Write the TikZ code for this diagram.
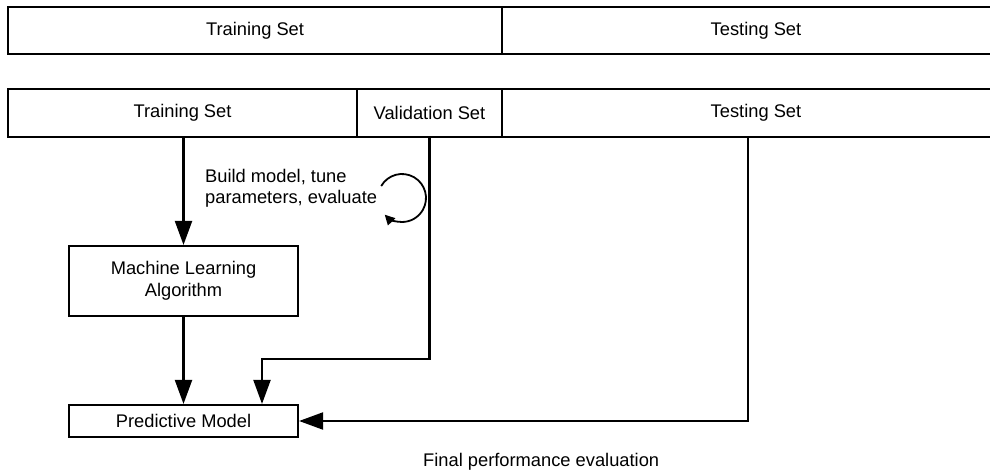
\documentclass[tikz,border=0pt]{standalone}
\usepackage{fontspec}
\setmainfont{Liberation Sans}
\usetikzlibrary{arrows.meta}

\tikzset{
  lbl/.style={font=\fontsize{18.3}{22}\selectfont, inner sep=0pt},
  setbox/.style={draw, line width=2.1pt, inner sep=0pt, lbl, align=center},
  arr/.style={line width=2.1pt, -{Triangle[length=24pt,width=17pt]}},
  looparr/.style={line width=1.8pt, -{Triangle[length=10pt,width=10pt]}},
}

\begin{document}
\begin{tikzpicture}[x=1pt, y=-1pt]
  \clip (0,0) rectangle (990,473);
  \fill[white] (0,0) rectangle (990,473);

  % first split: training / testing
  \node[setbox, minimum width=494pt, minimum height=47pt] (trA) at (255,30.5) {Training Set};
  \node[setbox, minimum width=508pt, minimum height=47pt] (teA) at (756,30.5) {Testing Set};

  % second split: training / validation / testing
  \node[setbox, minimum width=349pt, minimum height=48pt] (trB) at (182.5,113) {Training Set};
  \node[setbox, minimum width=145pt, minimum height=48pt] (vaB) at (429.5,113) {Validation Set};
  \node[setbox, minimum width=508pt, minimum height=48pt] (teB) at (756,113) {Testing Set};

  % model building blocks
  \node[setbox, minimum width=229pt, minimum height=70pt] (ml) at (183.5,281) {Machine Learning\\Algorithm};
  \node[setbox, minimum width=229pt, minimum height=32pt] (pm) at (183.5,421) {Predictive Model};

  % connectors
  \draw[arr] (ml.north |- trB.south) -- (ml.north);
  \draw[arr] (ml.south) -- (pm.north);

  \coordinate (vbend) at (262,359);
  \draw[arr] (vaB.south) |- (vbend) -- (vbend |- pm.north);

  \coordinate (tdrop) at (748,137);
  \draw[arr] (tdrop) |- (pm.east);

  % iteration loop
  \coordinate (loopc) at (402,198);
  \draw[looparr] (loopc) ++(-150:24) arc[start angle=-150, end angle=136, radius=24];

  \node[lbl, anchor=base west] (b1) at (205,183) {Build model, tune};
  \node[lbl, anchor=base west] (b2) at (205,204) {parameters, evaluate};

  \node[lbl, anchor=base west] (fin) at (423,466) {Final performance evaluation};
\end{tikzpicture}
\end{document}
